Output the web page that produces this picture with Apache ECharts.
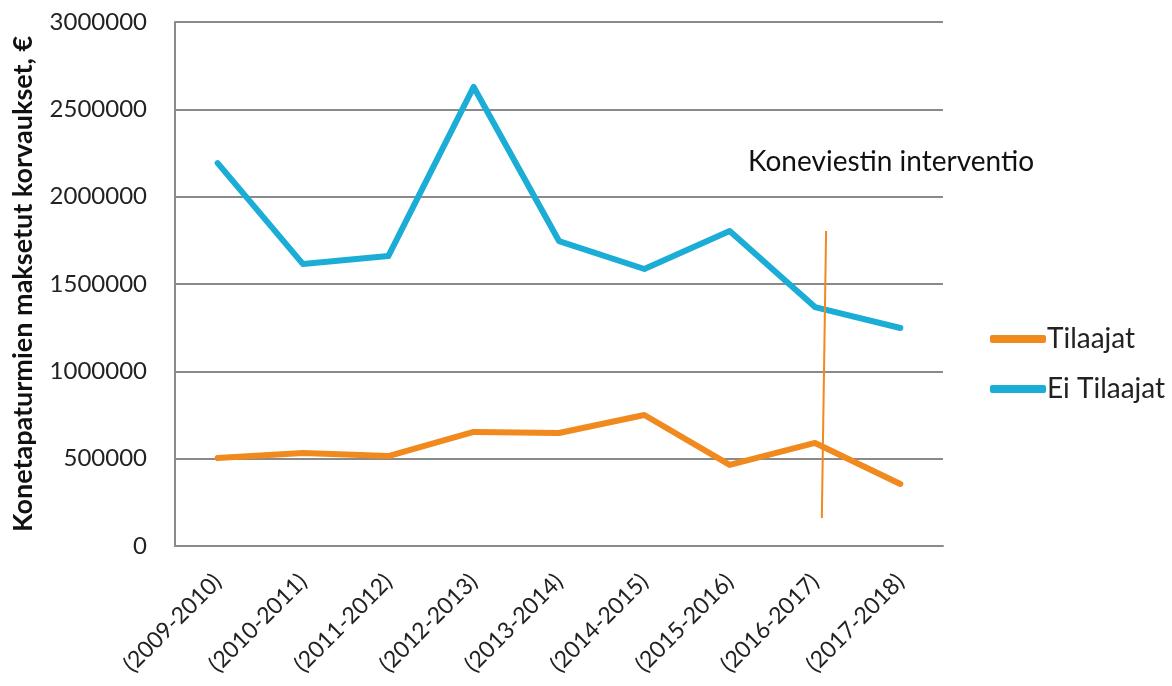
<!DOCTYPE html>
<html><head><meta charset="utf-8">
<script src="https://cdn.jsdelivr.net/npm/echarts@6/dist/echarts.min.js"></script>
<style>html,body{margin:0;padding:0;background:#fff}#c{width:1172px;height:686px}</style>
</head><body><div id="c"></div>
<script>
const categories = ['(2009-2010)','(2010-2011)','(2011-2012)','(2012-2013)','(2013-2014)','(2014-2015)','(2015-2016)','(2016-2017)','(2017-2018)'];
const tilaajat = [504000, 532000, 515000, 653000, 647000, 750000, 464000, 590000, 355000];
const eiTilaajat = [2192000, 1614000, 1660000, 2628000, 1746000, 1586000, 1803000, 1368000, 1248000];
const interventionLine = [[7.13, 1803000], [7.08, 160000]];
const annotation = 'Koneviestin interventio';
const yTitle = 'Konetapaturmien maksetut korvaukset, €';

const FONT = 'Lato';
const chart = echarts.init(document.getElementById('c'));
chart.setOption({
  animation: false,
  textStyle: {fontFamily: FONT},
  grid: {left: 175, right: 229, top: 22, bottom: 140},
  legend: {
    orient: 'vertical', left: 985, top: 320, itemGap: 22,
    itemWidth: 56, itemHeight: 8, icon: 'roundRect',
    textStyle: {fontFamily: FONT, fontSize: 28, color: '#222', padding: [0,0,0,-4]},
    data: ['Tilaajat', 'Ei Tilaajat']
  },
  xAxis: [{
    type: 'category', data: categories, boundaryGap: true,
    axisLine: {lineStyle: {color: '#8a8a8a', width: 2}},
    axisTick: {show: false},
    axisLabel: {rotate: 45, fontSize: 23, color: '#222', margin: 32, interval: 0}
  }, {
    type: 'value', min: -0.5, max: 8.5, show: false
  }],
  yAxis: {
    type: 'value', min: 0, max: 3000000, interval: 500000,
    name: yTitle, nameLocation: 'middle', nameGap: 138,
    nameTextStyle: {fontFamily: FONT, fontWeight: 'bold', fontSize: 27, color: '#111'},
    axisLine: {show: true, onZero: false, lineStyle: {color: '#8a8a8a', width: 2}},
    axisTick: {show: false},
    splitLine: {lineStyle: {color: '#8a8a8a', width: 2}},
    axisLabel: {fontSize: 24, color: '#222', margin: 28, formatter: v => String(v)}
  },
  graphic: [{
    type: 'text', left: 748, top: 148,
    style: {text: annotation, fontFamily: FONT, fontSize: 28, fill: '#111'}
  }],
  series: [{
    name: 'Tilaajat', type: 'line', data: tilaajat, symbol: 'none',
    itemStyle: {color: '#f08a1e'},
    lineStyle: {color: '#f08a1e', width: 6, cap: 'round', join: 'round'}
  }, {
    name: 'Ei Tilaajat', type: 'line', data: eiTilaajat, symbol: 'none',
    itemStyle: {color: '#1cadd6'},
    lineStyle: {color: '#1cadd6', width: 6, cap: 'round', join: 'round'}
  }, {
    name: 'interventio', type: 'line', xAxisIndex: 1, data: interventionLine, symbol: 'none',
    lineStyle: {color: '#f08a1e', width: 2}, z: 5
  }]
});
</script></body></html>
